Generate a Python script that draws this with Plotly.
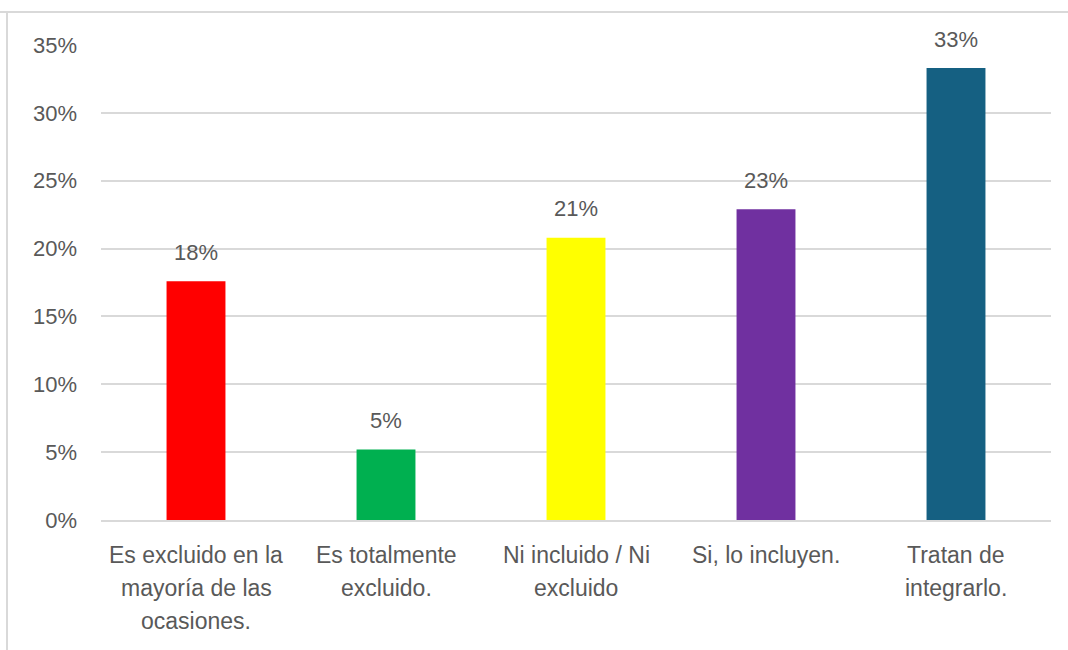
import plotly.graph_objects as go

# Survey responses and their shares
categories = [
    "Es excluido en la<br>mayoría de las<br>ocasiones.",
    "Es totalmente<br>excluido.",
    "Ni incluido / Ni<br>excluido",
    "Si, lo incluyen.",
    "Tratan de<br>integrarlo.",
]
shares = [0.176, 0.052, 0.208, 0.229, 0.333]
bar_colors = ["#FF0000", "#00B050", "#FFFF00", "#7030A0", "#156082"]
y_ticks = [0, 0.05, 0.10, 0.15, 0.20, 0.25, 0.30, 0.35]

label_font = dict(family="Liberation Sans, Arial, sans-serif", size=22, color="#595959")
cat_font = dict(family="Liberation Sans, Arial, sans-serif", size=23, color="#595959")

fig = go.Figure(
    go.Bar(
        x=list(range(len(categories))),
        y=shares,
        marker=dict(color=bar_colors, line=dict(width=0)),
        hoverinfo="skip",
    )
)

annotations = []
# value labels above the bars
for i, v in enumerate(shares):
    annotations.append(dict(
        x=i, y=v, xref="x", yref="y", text=f"{v:.0%}", showarrow=False,
        yshift=29, font=label_font,
    ))
# multi-line category labels under the axis
for i, cat in enumerate(categories):
    for j, line in enumerate(cat.split("<br>")):
        annotations.append(dict(
            x=i, y=0, xref="x", yref="paper", yanchor="middle", text=line,
            showarrow=False, yshift=-35 - 33 * j, font=cat_font,
        ))

fig.update_layout(
    width=1068, height=650,
    margin=dict(l=101, r=17, t=45, b=130),
    paper_bgcolor="white", plot_bgcolor="white",
    bargap=0.69,
    showlegend=False,
    xaxis=dict(
        range=[-0.5, len(categories) - 0.5],
        showticklabels=False, showgrid=False, zeroline=False,
        showline=True, linecolor="#d9d9d9", linewidth=2, ticks="",
    ),
    yaxis=dict(
        range=[0, 0.35], tickvals=y_ticks, tickformat=".0%",
        showgrid=True, gridcolor="#d9d9d9", gridwidth=2,
        zeroline=False, showline=False, ticks="",
        tickfont=label_font, ticklabelstandoff=23,
    ),
    annotations=annotations,
    shapes=[
        dict(type="line", xref="paper", yref="paper", x0=-101 / 950, x1=1.03,
             y0=1 + 33 / 475, y1=1 + 33 / 475, line=dict(color="#d9d9d9", width=2)),
        dict(type="line", xref="paper", yref="paper", x0=-94 / 950, x1=-94 / 950,
             y0=-130 / 475, y1=1 + 33 / 475, line=dict(color="#d9d9d9", width=2)),
    ],
)

fig.write_html("out.html")
